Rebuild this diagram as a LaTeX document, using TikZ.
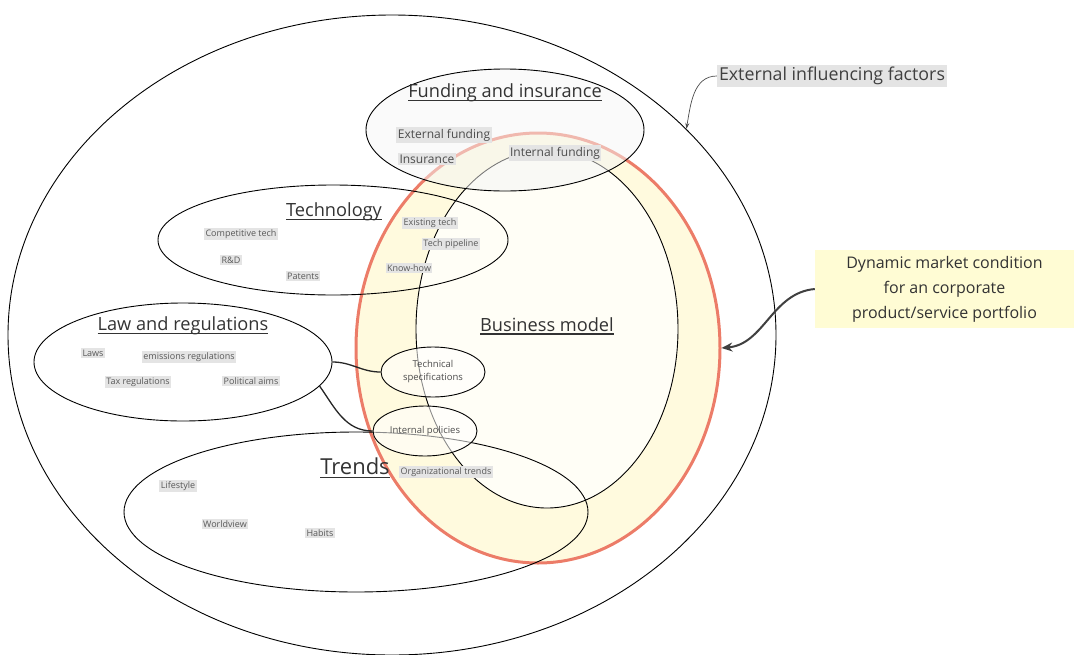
\documentclass[tikz,border=0pt]{standalone}
\usepackage{fontspec}
\setmainfont{Open Sans}
\usetikzlibrary{arrows.meta,positioning,shapes.geometric}

\definecolor{bmred}{RGB}{236,124,104}
\definecolor{bmfill}{RGB}{255,250,222}
\definecolor{corefill}{RGB}{255,254,246}
\definecolor{tagbg}{RGB}{228,228,228}
\definecolor{notebg}{RGB}{255,252,212}

\newcommand{\ulined}[1]{\setbox0=\hbox{#1}\rlap{\rule[-3.5pt]{\wd0}{1.6pt}}\box0}

\begin{document}
\begin{tikzpicture}[
    x=1pt, y=-1pt,
    field/.style={ellipse, draw, line width=0.9pt, inner sep=0pt},
    small/.style={ellipse, draw, line width=0.9pt, inner sep=0pt, fill=white, fill opacity=0.55,
      text opacity=1, align=center, font=\fontsize{9.5}{13}\selectfont, text=black!70},
    title/.style={font=\fontsize{18.2}{21}\selectfont, text=black!80},
    tag/.style={font=\fontsize{9}{10}\selectfont, text=black!65, fill=tagbg, inner sep=1.5pt},
    bigtag/.style={font=\fontsize{12}{13}\selectfont, text=black!70, fill=tagbg, inner sep=1.5pt},
    link/.style={line width=1.3pt, black!85},
  ]
  \useasboundingbox (0,0) rectangle (1074,654);

  %% ---- outer frame ----
  \node[field, minimum width=768, minimum height=640] (outer) at (392,335) {};

  %% ---- business model ----
  \node[ellipse, draw=bmred, line width=3pt, fill=bmfill, minimum width=364, minimum height=430, inner sep=0pt] (bm) at (538,348) {};
  \node[field, fill=corefill, minimum width=262, minimum height=358] (core) at (547,329) {};

  %% ---- influencing fields ----
  \node[field, minimum width=350, minimum height=110] (tech) at (333,240) {};
  \node[field, minimum width=298, minimum height=118] (law) at (183,362) {};
  \node[field, minimum width=464, minimum height=160] (trends) at (356,512) {};
  \node[field, fill=gray!8, fill opacity=0.5, minimum width=278, minimum height=122] (fund) at (505,130) {};

  %% Links from law
  \node[small, minimum width=104, minimum height=50] (spec) at (433,372) {Technical\\specifications};
  \node[small, minimum width=104, minimum height=50] (policy) at (425,431) {Internal policies};
  \draw[link] (law.east) to[out=0, in=180] (spec.west);
  \draw[link] (law.-10) to[out=-55, in=180] (policy.west);

  %% Titles
  \node[title] (fundtitle) at (505,93) {\ulined{Funding and insurance}};
  \node[title] (techtitle) at (334,212) {\ulined{Technology}};
  \node[title] (lawtitle) at (183,326) {\ulined{Law and regulations}};
  \node[title] (bmtitle) at (547,326) {\ulined{Business model}};
  \node[title, font=\fontsize{22}{24}\selectfont] (trendtitle) at (355,468) {\ulined{Trends}};

  %% Items
  \node[bigtag] (extfund) at (444,135) {External funding};
  \node[bigtag] (insur) at (427,159) {Insurance};
  \node[bigtag] (intfund) at (555,153) {Internal funding};
  \foreach \x/\y/\t [count=\i] in {241/234/Competitive tech, 231/260/R\&D, 303/276/Patents,
      430/223/Existing tech, 451/244/Tech pipeline, 409/268/Know-how}
    \node[tag] (techitem\i) at (\x,\y) {\t};
  \foreach \x/\y/\t [count=\i] in {93/353/Laws, 189/357/emissions regulations,
      138/382/Tax regulations, 251/381/Political aims}
    \node[tag] (lawitem\i) at (\x,\y) {\t};
  \foreach \x/\y/\t [count=\i] in {446/472/Organizational trends, 178/486/Lifestyle,
      225/524/Worldview, 320/533/Habits}
    \node[tag] (trenditem\i) at (\x,\y) {\t};

  %% ---- callouts ----
  \node[fill=tagbg, font=\fontsize{17.8}{20}\selectfont, text=black!75, inner sep=2pt] (ext) at (832,76) {External influencing factors};
  \draw[-{Stealth[length=6pt,width=4pt]}, black!70, line width=0.7pt] (ext.west) to[out=180, in=80] (outer.35);

  \node[fill=notebg, font=\fontsize{16}{25}\selectfont, text=black!80, align=center,
    minimum width=259, minimum height=78, inner sep=0pt] (market) at (944.5,289) {Dynamic market condition\\for an corporate\\product/service portfolio};
  \draw[-{Stealth[length=11pt,width=9pt]}, black!75, line width=2pt] (market.west) to[out=185, in=5] (bm.east);

\end{tikzpicture}
\end{document}
